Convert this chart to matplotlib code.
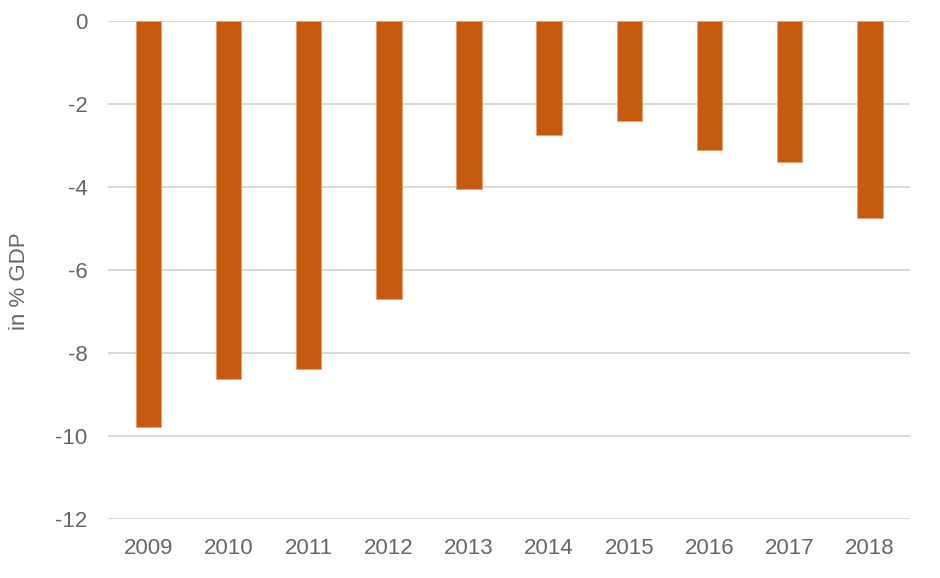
import matplotlib
matplotlib.use('Agg')
import matplotlib.pyplot as plt

# --- Data ---
years = ['2009', '2010', '2011', '2012', '2013', '2014', '2015', '2016', '2017', '2018']
balance = [-9.78, -8.64, -8.39, -6.71, -4.05, -2.75, -2.40, -3.12, -3.40, -4.75]
y_ticks = [0, -2, -4, -6, -8, -10, -12]

plt.rcParams['font.family'] = ['Liberation Sans', 'DejaVu Sans']

fig = plt.figure(figsize=(9.4, 5.78), dpi=100)
ax = fig.add_axes([0.1152, 0.1026, 0.968 - 0.1152, 0.9637 - 0.1026])

x = range(len(years))
ax.bar(x, balance, width=0.317, color='#C55A11', edgecolor='#E9A071', linewidth=0.6, zorder=3)

ax.set_xlim(-0.5, len(years) - 0.5)
ax.set_ylim(-12, 0)
ax.set_yticks(y_ticks)
ax.set_yticklabels([str(t) for t in y_ticks])
ax.set_xticks(list(x))
ax.set_xticklabels(years)

# gridlines only, no frame
ax.grid(axis='y', color='#D9D5CE', linewidth=1.3, zorder=0)
for s in ax.spines.values():
    s.set_visible(False)
ax.tick_params(axis='both', length=0, labelsize=16, labelcolor='#666666')
ax.tick_params(axis='y', pad=15)
ax.tick_params(axis='x', pad=14)

ax.set_ylabel('in % GDP', fontsize=16, color='#666666')
# label sits ~12-28px from the left edge of the figure
ax.yaxis.set_label_coords(-(108.3 - 30) / (910 - 108.3), 0.478)

plt.savefig('out.png', dpi=100)
plt.close(fig)
